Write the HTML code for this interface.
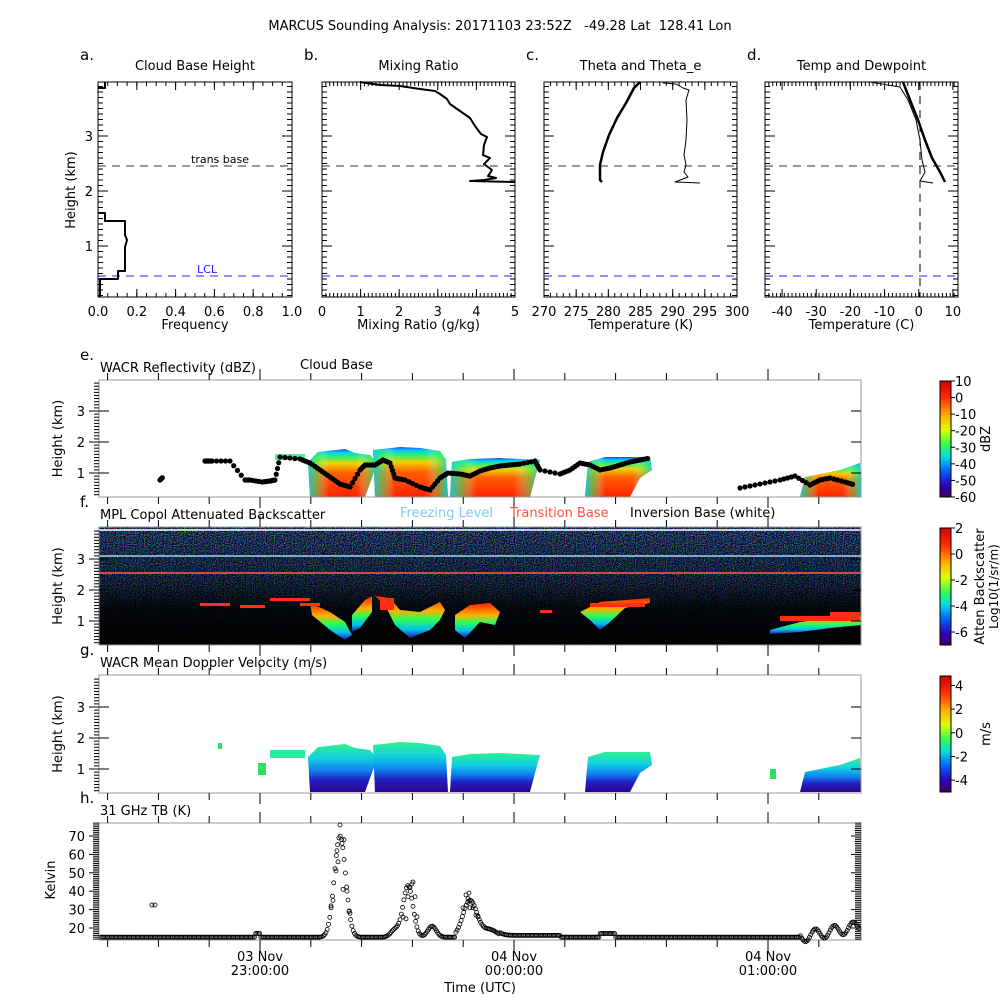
<!DOCTYPE html>
<html><head><meta charset="utf-8"><style>
body{margin:0;background:#fff;width:1000px;height:1000px;overflow:hidden}
svg text{font-family:"DejaVu Sans","Liberation Sans",sans-serif;fill:#000}
</style></head><body>
<svg id="s" width="1000" height="1000" xmlns="http://www.w3.org/2000/svg">
<defs>
<linearGradient id="jet" x1="0" y1="0" x2="0" y2="1">
<stop offset="0" stop-color="#d00000"/><stop offset="0.15" stop-color="#ff3000"/><stop offset="0.3" stop-color="#ffb000"/><stop offset="0.42" stop-color="#e0ff00"/><stop offset="0.55" stop-color="#30ff50"/><stop offset="0.65" stop-color="#00e0e0"/><stop offset="0.78" stop-color="#0060ff"/><stop offset="0.9" stop-color="#3000c0"/><stop offset="1" stop-color="#400060"/></linearGradient>
<linearGradient id="cld" x1="0" y1="1" x2="0" y2="0">
<stop offset="0" stop-color="#ff2000"/><stop offset="0.5" stop-color="#ff6000"/><stop offset="0.7" stop-color="#f0d000"/><stop offset="0.82" stop-color="#40f060"/><stop offset="0.93" stop-color="#00d0f0"/><stop offset="1" stop-color="#2040ff"/></linearGradient>
<linearGradient id="cldh" x1="0" y1="0" x2="1" y2="0">
<stop offset="0" stop-color="#00d0f0" stop-opacity="0.9"/><stop offset="0.15" stop-color="#40f060" stop-opacity="0.5"/><stop offset="0.3" stop-color="#fff" stop-opacity="0"/><stop offset="0.7" stop-color="#fff" stop-opacity="0"/><stop offset="0.88" stop-color="#40f060" stop-opacity="0.5"/><stop offset="1" stop-color="#00d0f0" stop-opacity="0.9"/></linearGradient>
<linearGradient id="dop" x1="0" y1="1" x2="0" y2="0">
<stop offset="0" stop-color="#300090"/><stop offset="0.25" stop-color="#2020c0"/><stop offset="0.45" stop-color="#1080f0"/><stop offset="0.7" stop-color="#10d0e0"/><stop offset="1" stop-color="#30f090"/></linearGradient>
<filter id="noise" x="0" y="0" width="100%" height="100%">
<feTurbulence type="fractalNoise" baseFrequency="0.9" numOctaves="1" seed="3"/>
<feColorMatrix type="matrix" values="1.8 0 0 0 -0.95  0 1.8 0 0 -0.85  0 0 2 0 -0.8  0 0 0 0 1"/>
</filter>
<linearGradient id="fade" x1="0" y1="0" x2="0" y2="1"><stop offset="0" stop-color="#000" stop-opacity="0.2"/><stop offset="0.45" stop-color="#000" stop-opacity="0.5"/><stop offset="0.7" stop-color="#000" stop-opacity="0.9"/><stop offset="1" stop-color="#000" stop-opacity="1"/></linearGradient>
<linearGradient id="mplc" x1="0" y1="0" x2="0" y2="1"><stop offset="0" stop-color="#ff2000"/><stop offset="0.35" stop-color="#ffb000"/><stop offset="0.55" stop-color="#30ff50"/><stop offset="0.8" stop-color="#00c0f0"/><stop offset="1" stop-color="#3010a0"/></linearGradient>
<clipPath id="cf"><rect x="99" y="527" width="762" height="118"/></clipPath>
</defs>
<g id="g"></g>
</svg>
<script>
var G=document.getElementById('g'),out='';
function T(x,y,t,o){o=o||{};out+='<text x="'+x+'" y="'+y+'" font-size="'+(o.s||13)+'" text-anchor="'+(o.a||'start')+'"'+(o.f?' fill="'+o.f+'" style="fill:'+o.f+'"':'')+(o.r?' transform="rotate(-90 '+x+' '+y+')"':'')+'>'+t+'</text>';}
function L(x1,y1,x2,y2,c,w,d){out+='<line x1="'+x1+'" y1="'+y1+'" x2="'+x2+'" y2="'+y2+'" stroke="'+(c||'#000')+'" stroke-width="'+(w||1)+'"'+(d?' stroke-dasharray="'+d+'"':'')+'/>';}
function P(pts,c,w){out+='<polyline fill="none" stroke="'+c+'" stroke-width="'+w+'" stroke-linejoin="round" points="'+pts.map(function(p){return p.join(',')}).join(' ')+'"/>';}
function R(x,y,w,h,f,s){out+='<rect x="'+x+'" y="'+y+'" width="'+w+'" height="'+h+'" fill="'+(f||'none')+'" stroke="'+(s||'none')+'"/>';}
T(500,30,'MARCUS Sounding Analysis: 20171103 23:52Z &#160; -49.28 Lat &#160;128.41 Lon',{a:'middle'});
var tops=[[98,292,'a.','Cloud Base Height','Frequency'],[322,515,'b.','Mixing Ratio','Mixing Ratio (g/kg)'],[544,737,'c.','Theta and Theta_e','Temperature (K)'],[765,958,'d.','Temp and Dewpoint','Temperature (C)']];
var xtl=[ [[0,'0.0'],[0.2,'0.2'],[0.4,'0.4'],[0.6,'0.6'],[0.8,'0.8'],[1.0,'1.0']],
 [0,1,2,3,4,5].map(function(v){return [v/5,''+v]}),
 [270,275,280,285,290,295,300].map(function(v){return [(v-270)/30,''+v]}),
 [-40,-30,-20,-10,0,10].map(function(v){return [(v+45)/56.5,''+v]}) ];
function yh(h){return 301-55*h;}
tops.forEach(function(p,i){
 var x0=p[0],x1=p[1],w=x1-x0;
 R(x0,82,w,215,'none','#000');
 T(x0-18,60,p[2],{s:15});T((x0+x1)/2,70,p[3],{a:'middle'});
 T((x0+x1)/2,329,p[4],{a:'middle'});
 for(var h=0.1;h<4;h+=0.1){var y=yh(h),maj=Math.abs(h-Math.round(h))<0.01;var l=maj?10:5;L(x0,y,x0+l,y);L(x1,y,x1-l,y);}
 if(i==0){[1,2,3].forEach(function(v){T(x0-5,yh(v)+5,''+v,{a:'end'});});T(75,190,'Height (km)',{r:1,a:'middle'});}
 xtl[i].forEach(function(t){var x=x0+t[0]*w;L(x,297,x,289);L(x,82,x,90);T(x,316,t[1],{a:'middle'});});
 var nm=i==2?30:(i==0?20:50);for(var k=0;k<=nm;k++){var x=x0+k*w/nm;L(x,297,x,293);L(x,82,x,86);}
 L(x0,166,x1,166,'#333',1,'8,6');L(x0,276,x1,276,'#2020ff',1,'8,6');
});
T(220,163,'trans base',{s:11,a:'middle'});T(207,273,'LCL',{s:11,a:'middle',f:'#2020ff'});
P([[100,297],[100,279],[118,279],[118,271],[125,271],[125,247],[127,240],[125,235],[125,221],[105,221],[105,213],[98,213]],'#000',2);
P([[98,88],[105,88],[105,82]],'#000',2);
P([[360,82],[380,85],[400,86],[420,89],[435,91],[440,94],[447,99],[450,104],[460,111],[470,118],[475,126],[481,134],[487,137],[484,145],[483,155],[490,158],[484,164],[492,170],[488,176],[496,178],[484,180],[470,181],[515,182]],'#000',2);
P([[640,82],[634,88],[626,103],[617,118],[609,135],[603,152],[600,165],[600,180],[602,182]],'#000',2.5);
P([[663,83],[676,84],[683,88],[689,90],[686,100],[687,120],[686,140],[684,155],[686,165],[684,172],[688,177],[675,182],[700,183]],'#000',1);
L(920,82,920,297,'#000',1,'8,6');
P([[903,82],[910,100],[918,120],[925,140],[932,158],[940,172],[945,182]],'#000',2.5);
P([[870,82],[900,87],[908,100],[916,120],[920,140],[922,160],[925,172],[920,181],[933,183]],'#000',1);
var X0=99,X1=861;
function tx(min){return 260+min*254/60;}
function bottomAxes(y0,y1,label){
 R(X0,y0,X1-X0,y1-y0,'none','#999');
 T(X0+1,y0-8,label);
 for(var k=-3;k<=12;k++){var x=tx(k*12);if(x<X0||x>X1)continue;var big=(k%5==0);L(x,y0,x,y0-(big?11:7));L(x,y1,x,y1+(big?11:7));}
}
function hy(y1,h){return y1+7-31*h;}
var panels=[[380,497,'WACR Reflectivity (dBZ)','e.'],[527,645,'MPL Copol Attenuated Backscatter','f.'],[675,793,'WACR Mean Doppler Velocity (m/s)','g.']];
out+='<g clip-path="url(#cf)"><rect x="99" y="527" width="762" height="118" fill="#000"/><rect x="99" y="527" width="762" height="118" filter="url(#noise)"/><rect x="99" y="527" width="762" height="118" fill="url(#fade)"/></g>';
L(99,530,861,530,'#fff',1.5);L(99,556,861,556,'#9dd4f0',1.5);L(99,573,861,573,'#ff6050',1.5);
function blob(pts,f){out+='<polygon points="'+pts.map(function(p){return p.join(',')}).join(' ')+'" fill="'+f+'"/>';}
var clouds=[[[310,497],[308,462],[318,452],[345,449],[355,453],[370,455],[377,463],[373,475],[365,497]],
[[375,497],[373,450],[400,447],[420,448],[440,451],[446,460],[448,497]],
[[450,497],[452,462],[470,459],[500,458],[520,459],[540,460],[535,478],[530,497]],
[[585,497],[588,462],[605,457],[625,457],[650,457],[652,470],[640,478],[630,497]],
[[800,497],[805,477],[840,470],[860,463],[861,497]]];
clouds.forEach(function(c){blob(c,'url(#cld)');blob(c,'url(#cldh)');});
clouds.forEach(function(c){blob(c.map(function(p){return [p[0],p[1]+295];}),'url(#dop)');});
R(275,454,30,6,'#50f0a0');R(218,743,4,6,'#30e060');R(258,763,8,12,'#30e060');R(770,769,6,10,'#30e060');R(270,750,35,8,'#30e8a0');
var cb=[[160,480],[163,477],[205,461],[208,461],[212,461],[230,461],[245,480],[250,480],[262,482],[270,481],[275,480],[280,457],[300,459],[310,463],[320,470],[330,477],[340,484],[350,487],[360,470],[365,465],[375,465],[383,460],[390,463],[395,478],[405,480],[420,487],[430,490],[440,478],[448,473],[460,474],[470,476],[480,471],[490,468],[500,466],[510,465],[520,464],[535,461],[540,470],[560,474],[570,470],[580,463],[590,465],[600,470],[610,468],[620,465],[630,462],[640,460],[650,458],[740,488],[760,484],[780,480],[795,476],[810,485],[820,480],[830,478],[845,482],[855,485]];
var d='';for(var i=0;i<cb.length-1;i++){var a=cb[i],b=cb[i+1];if(b[0]-a[0]>25)continue;for(var t=0;t<1;t+=0.25){d+='<circle cx="'+(a[0]+(b[0]-a[0])*t)+'" cy="'+(a[1]+(b[1]-a[1])*t)+'" r="2.6" fill="#000"/>';}}
out+=d;
// MPL cloud features
[[[310,603],[330,612],[345,622],[352,635],[345,640],[330,630],[312,615]],
 [[352,615],[365,600],[372,596],[372,612],[360,628],[352,632]],
 [[375,596],[385,605],[395,625],[410,638],[430,630],[440,620],[445,610],[440,602],[420,612],[400,610],[390,598]],
 [[455,615],[470,605],[490,603],[500,612],[495,625],[480,622],[465,638],[455,630]],
 [[580,612],[600,602],[625,600],[650,598],[650,603],[625,608],[610,622],[600,630],[590,620]],
 [[770,630],[800,622],[830,618],[860,612],[861,625],[830,628],[800,632],[770,634]]].forEach(function(c){blob(c,'url(#mplc)');});
[[200,603,30,3],[240,605,25,3],[270,598,40,3],[300,603,20,3],[380,598,14,12],[540,610,12,3],[590,603,55,4],[780,616,80,5],[830,612,30,4]].forEach(function(r){out+='<rect x="'+r[0]+'" y="'+r[1]+'" width="'+r[2]+'" height="'+r[3]+'" fill="#ff3010"/>';});
panels.forEach(function(p){bottomAxes(p[0],p[1],p[2]);T(80,p[0]-20,p[3],{s:15});
 for(var h=0.3;h<3.95;h+=0.1){var y=hy(p[1],h),maj=Math.abs(h-Math.round(h))<0.01;L(X0,y,X0-(maj?10:5),y);}
 [1,2,3].forEach(function(v){L(X0,hy(p[1],v),X0+10,hy(p[1],v));L(X1,hy(p[1],v),X1-10,hy(p[1],v));T(X0-14,hy(p[1],v)+5,''+v,{a:'end'});});
 T(62,(p[0]+p[1])/2,'Height (km)',{r:1,a:'middle'});
});
bottomAxes(823,940,'31 GHz TB (K)');T(80,803,'h.',{s:15});
function ky(k){return 928-(k-20)*1.84;}
for(var k=14;k<=77;k+=1){L(X0,ky(k),X0-(k%10==0?10:6),ky(k));L(X1,ky(k),X1-(k%10==0?10:6),ky(k));}
[20,30,40,50,60,70].forEach(function(v){T(X0-14,ky(v)+5,''+v,{a:'end'});});
T(55,880,'Kelvin',{r:1,a:'middle'});
function tb(x){var v=15;if(x>255&&x<260)v=17;if(x>320&&x<360)v+=55*Math.exp(-Math.pow((x-340)/8,2));if(x>380&&x<445)v+=28*Math.exp(-Math.pow((x-408)/7,2))+6*Math.exp(-Math.pow((x-432)/6,2))+4*Math.exp(-Math.pow((x-395)/6,2));if(x>455&&x<520)v+=20*Math.exp(-Math.pow((x-470)/10,2))+4*Math.exp(-Math.pow((x-490)/10,2));if(x>500&&x<560)v+=1;if(x>600&&x<615)v+=2;if(x>800)v+=(x-800)*0.1+3*Math.sin(x/3);return v;}
for(var x=101;x<860;x+=1.3){var v=tb(x);out+='<circle cx="'+x.toFixed(1)+'" cy="'+ky(v).toFixed(1)+'" r="2" fill="none" stroke="#000" stroke-width="0.8"/>';}
[[152,32.5],[155,32.5],[340,76],[331,32],[333,35],[336,51],[337,62],[338,56],[342,66],[344,68],[343,41],[347,40],[349,29],[350,28],[403,26],[406,25],[408,37],[410,42],[412,44],[413,45],[415,37],[417,26],[463,31],[466,38],[469,39],[468,36],[470,31],[473,31],[476,27],[478,26]].forEach(function(p){out+='<circle cx="'+p[0]+'" cy="'+ky(p[1])+'" r="2" fill="none" stroke="#000" stroke-width="0.8"/>';});
[[260,'03 Nov','23:00:00'],[514,'04 Nov','00:00:00'],[768,'04 Nov','01:00:00']].forEach(function(t){T(t[0],961,t[1],{a:'middle'});T(t[0],975,t[2],{a:'middle'});});
T(480,992,'Time (UTC)',{a:'middle'});
T(300,369,'Cloud Base');
T(400,517,'Freezing Level',{f:'#7ec8f0'});T(510,517,'Transition Base',{f:'#ff5040'});T(630,517,'Inversion Base (white)');
function cbar(y0,y1,vals,v0,v1,lab,lab2){R(940,y0,11,y1-y0,'url(#jet)','#000');vals.forEach(function(v){var y=y0+(v0-v)/(v0-v1)*(y1-y0);L(951,y,955,y);T(955,y+5,''+v);});T(lab2?984:990,(y0+y1)/2,lab,{r:1,a:'middle'});if(lab2)T(998,(y0+y1)/2,lab2,{r:1,a:'middle',s:12});}
cbar(381,497,[10,0,-10,-20,-30,-40,-50,-60],10,-60,'dBZ');
cbar(528,645,[2,0,-2,-4,-6],2,-7,'Atten Backscatter','Log10(1/sr/m)');
cbar(676,792,[4,2,0,-2,-4],4.8,-5,'m/s');
G.innerHTML=out;
</script>
</body></html>
